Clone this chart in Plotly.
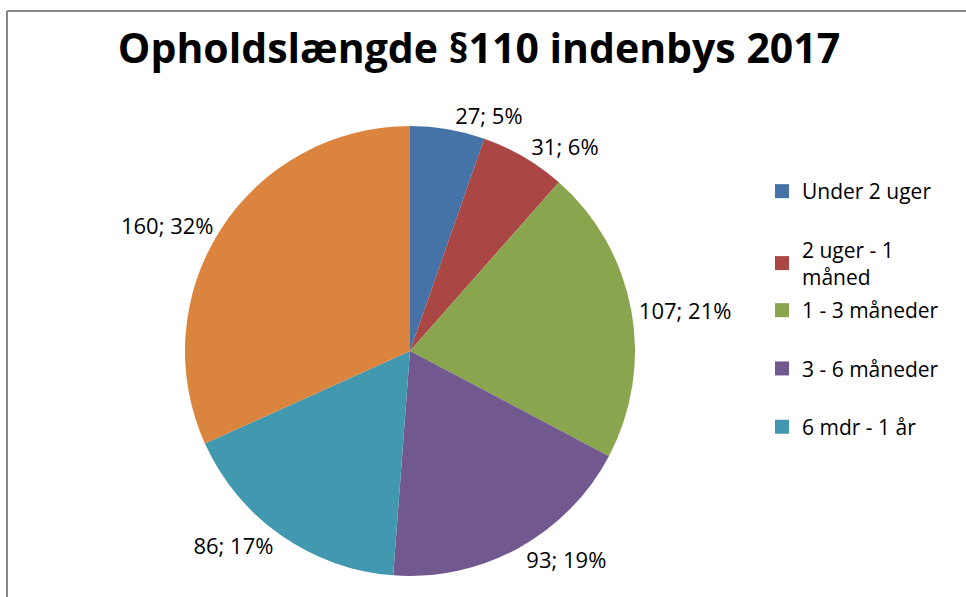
import plotly.graph_objects as go

categories = ["Under 2 uger", "2 uger - 1 måned", "1 - 3 måneder", "3 - 6 måneder", "6 mdr - 1 år", "Over 1 år"]
values = [27, 31, 107, 93, 86, 160]
label_text = ["27; 5%", "31; 6%", "107; 21%", "93; 19%", "86; 17%", "160; 32%"]
legend_labels = ["Under 2 uger", "2 uger - 1<br>måned", "1 - 3 måneder", "3 - 6 måneder", "6 mdr - 1 år"]
colors = ["#4572A7", "#AA4643", "#89A54E", "#71588F", "#4198AF", "#DB843D"]

W, H = 966, 597
FONT = "Open Sans, Noto Sans, sans-serif"

fig = go.Figure()
fig.add_trace(go.Pie(
    labels=categories,
    values=values,
    text=label_text,
    textinfo="text",
    textposition="outside",
    textfont=dict(family=FONT, size=22, color="#000000"),
    marker=dict(colors=colors, line=dict(width=0)),
    sort=False,
    direction="clockwise",
    rotation=0,
    showlegend=False,
    hoverinfo="label+value+percent",
    domain=dict(x=[185 / W, 635 / W], y=[1 - 576 / H, 1 - 126 / H]),
))

# legend entries (only five visible in the reference); split over two legends
for i, name in enumerate(legend_labels):
    fig.add_trace(go.Scatter(
        x=[None], y=[None], mode="markers", name=name,
        legendgroup=f"g{i}",
        legend="legend" if i < 2 else "legend2",
        marker=dict(symbol="square", size=14, color=colors[i]),
        hoverinfo="skip",
    ))

legend_common = dict(
    xanchor="left", yanchor="top",
    font=dict(family=FONT, size=21, color="#000000"),
    tracegroupgap=28,
    itemwidth=30,
    bgcolor="rgba(0,0,0,0)",
)

fig.update_layout(
    width=W, height=H,
    margin=dict(l=0, r=0, t=0, b=0),
    paper_bgcolor="white",
    plot_bgcolor="white",
    xaxis=dict(visible=False),
    yaxis=dict(visible=False),
    title=dict(
        text="<b>Opholdslængde §110 indenbys 2017</b>",
        x=479 / W, xanchor="center",
        y=1 - 49 / H, yanchor="middle",
        font=dict(family=FONT, size=41, color="#000000"),
    ),
    legend=dict(x=762 / W, y=1 - 171 / H, **legend_common),
    legend2=dict(x=762 / W, y=1 - 290 / H, **legend_common),
    showlegend=True,
    shapes=[
        dict(type="line", xref="paper", yref="paper",
             x0=7 / W, x1=1.01, y0=1 - 11 / H, y1=1 - 11 / H,
             line=dict(color="#888888", width=2)),
        dict(type="line", xref="paper", yref="paper",
             x0=7 / W, x1=7 / W, y0=1 - 11 / H, y1=-0.01,
             line=dict(color="#888888", width=2)),
    ],
)

fig.write_html("out.html", config={"displayModeBar": False},
               post_script="document.body.style.margin='0';")
